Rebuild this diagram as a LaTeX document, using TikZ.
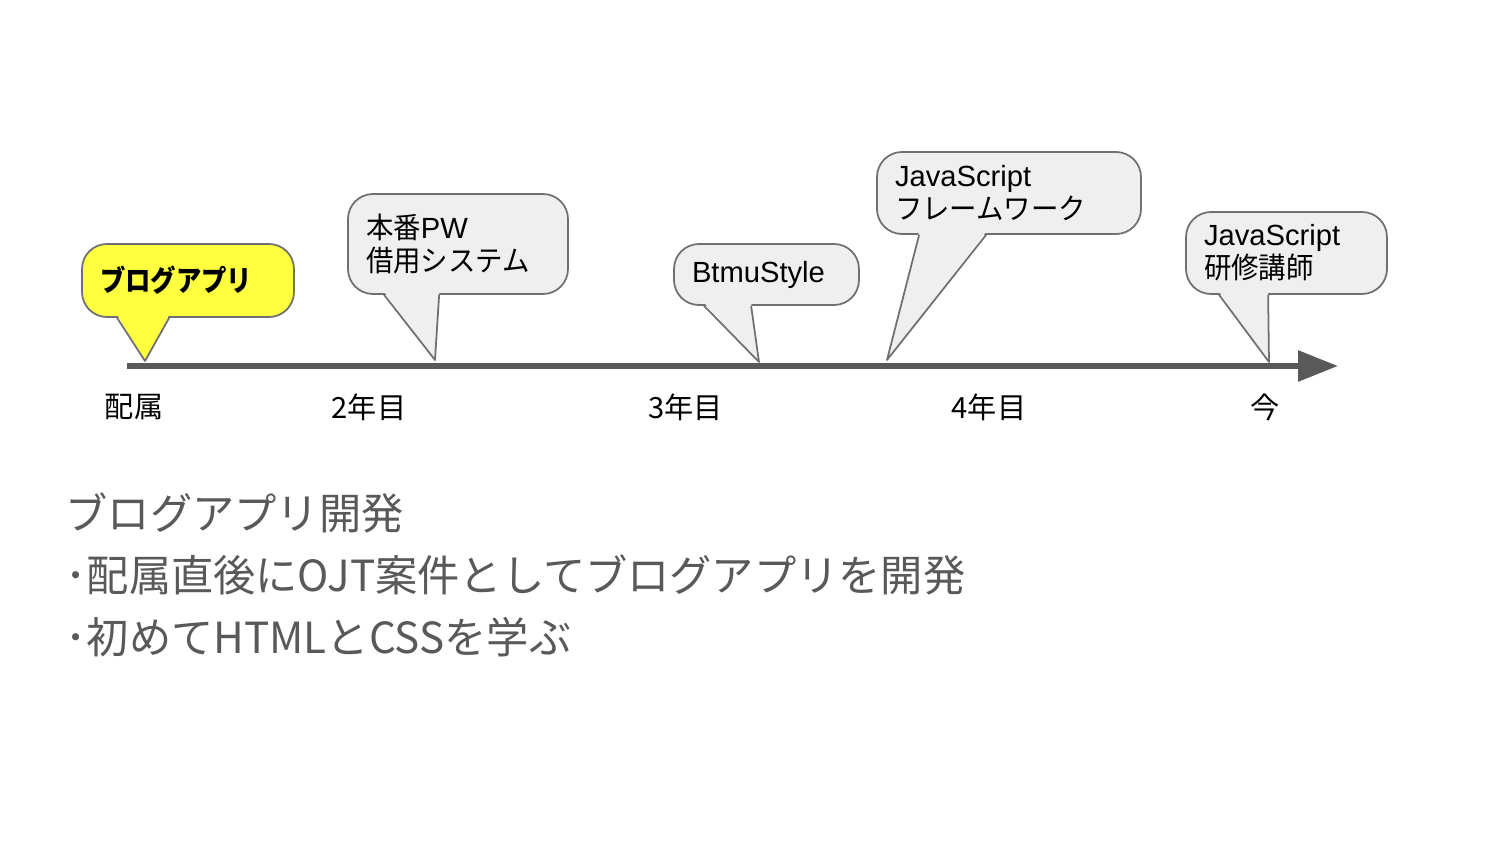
\documentclass[tikz,border=0pt]{standalone}
\usepackage{fontspec}
\setmainfont{Liberation Sans}
\newfontfamily\jp{Noto Sans CJK JP}
\newfontfamily\jpnarrow[FakeStretch=0.94]{Noto Sans CJK JP}
\newfontfamily\jpbold[FakeStretch=0.87]{Noto Sans CJK JP}
\newfontfamily\jpnote[FakeStretch=0.985]{Noto Sans CJK JP}
\usetikzlibrary{arrows.meta,positioning,calc}
\definecolor{LineGray}{RGB}{89,89,89}
\definecolor{BoxGray}{RGB}{239,239,239}
\definecolor{EdgeGray}{RGB}{112,112,112}
\definecolor{NoteYellow}{RGB}{255,255,64}
\newcommand\callfont{\fontsize{8.3}{9.4}\selectfont}
\newcommand\calltail[5]{%
  \fill[#5] ($(#1.south west)+(#2,0.03)$) -- (#4) -- ($(#1.south west)+(#3,0.03)$) -- cycle;
  \draw[EdgeGray,line width=0.5pt,line join=round]
    ($(#1.south west)+(#2,0)$) -- (#4) -- ($(#1.south west)+(#3,0)$);}
\tikzset{
  callbox/.style={draw=EdgeGray,line width=0.5pt,rounded corners=2.5mm,fill=BoxGray,
    inner xsep=0.18cm,inner ysep=0pt,align=left,font=\callfont},
  timeline/.style={-{Triangle[length=4mm,width=3mm]},line width=0.06cm,draw=LineGray},
  yearlabel/.style={font=\jp\callfont,inner sep=0pt},
  notetext/.style={font=\jpnote\fontsize{12.2}{17.6}\selectfont,text=LineGray,
    align=left,inner sep=0pt,anchor=west},
}
\begin{document}
\begin{tikzpicture}
  \useasboundingbox[fill=white] (0,0) rectangle (15,-8.43);
  % timeline
  \coordinate (tstart) at (1.27,-3.66);
  \coordinate (tend) at (13.38,-3.66);
  \draw[timeline] (tstart) -- (tend);
  \coordinate (tip1) at (1.45,-3.61);
  \coordinate (tip2) at (4.35,-3.60);
  \coordinate (tip3) at (7.59,-3.62);
  \coordinate (tip4) at (8.87,-3.60);
  \coordinate (tip5) at (12.69,-3.62);
  % callouts
  \node[callbox,fill=NoteYellow,text width=1.76cm,minimum height=0.73cm] (blog) at (1.88,-2.805)
    {\jpbold\bfseries ブログアプリ};
  \calltail{blog}{0.36}{0.88}{tip1}{NoteYellow}
  \node[callbox,text width=1.84cm,minimum height=1.00cm] (prodpw) at (4.58,-2.44)
    {{\jpnarrow 本番}PW\\{\jpnarrow 借用システム}};
  \calltail{prodpw}{0.37}{0.92}{tip2}{BoxGray}
  \node[callbox,text width=1.49cm,minimum height=0.61cm] (btmu) at (7.665,-2.745)
    {BtmuStyle};
  \calltail{btmu}{0.31}{0.78}{tip3}{BoxGray}
  \node[callbox,text width=2.28cm,minimum height=0.82cm] (jsframe) at (10.09,-1.93)
    {JavaScript\\{\jpnarrow フレームワーク}};
  \calltail{jsframe}{0.43}{1.10}{tip4}{BoxGray}
  \node[callbox,text width=1.65cm,minimum height=0.82cm] (jsteach) at (12.865,-2.53)
    {JavaScript\\{\jpnarrow 研修講師}};
  \calltail{jsteach}{0.34}{0.83}{tip5}{BoxGray}
  % year labels
  \node[yearlabel] (lbl0) at (1.34,-4.07) {配属};
  \node[yearlabel] (lbl2) at (3.69,-4.07) {2年目};
  \node[yearlabel] (lbl3) at (6.855,-4.07) {3年目};
  \node[yearlabel] (lbl4) at (9.89,-4.07) {4年目};
  \node[yearlabel] (lblnow) at (12.655,-4.07) {今};
  % description
  \node[notetext] (desc) at (0.65,-5.75)
    {ブログアプリ開発\\･配属直後にOJT案件としてブログアプリを開発\\･初めてHTMLとCSSを学ぶ};
\end{tikzpicture}
\end{document}
